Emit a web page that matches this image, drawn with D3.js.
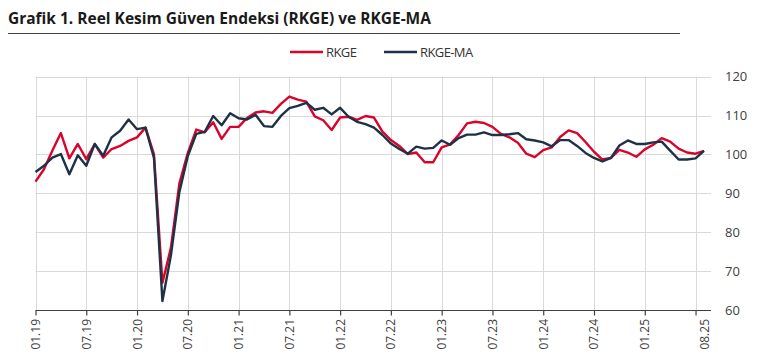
<!DOCTYPE html>
<html lang="tr">
<head>
<meta charset="UTF-8">
<title>Grafik 1. RKGE ve RKGE-MA</title>
<script src="https://d3js.org/d3.v7.min.js"></script>
<style>
    body { margin: 0; background: #fff; font-family: "Open Sans", "Noto Sans", sans-serif; }
    .grid line { stroke: #d9d9d9; stroke-width: 1px; }
    .tick-label { fill: #404040; font-size: 13px; }
    .x-label { fill: #404040; font-size: 12px; }
</style>
</head>
<body>
<svg id="chart" width="768" height="363"></svg>
<script>
    // aylar: 01.19 - 08.25
    const startYear = 2019;
    const rkge = [
        93.0, 96.2, 101.0, 105.5, 99.0, 102.7, 98.8, 102.7, 99.2, 101.4, 102.2, 103.5,
        104.4, 106.9, 100.0, 67.0, 76.0, 92.5, 100.4, 106.4, 105.7, 108.3, 104.0, 107.1,
        107.1, 109.4, 110.8, 111.1, 110.7, 113.0, 114.9, 114.1, 113.6, 109.8, 108.8, 106.3,
        109.5, 109.7, 108.9, 109.9, 109.5, 105.9, 103.7, 102.2, 100.1, 100.5, 98.0, 98.0,
        101.8, 102.6, 105.0, 108.0, 108.4, 108.1, 107.1, 105.3, 104.4, 103.0, 100.2, 99.3,
        101.1, 101.8, 104.5, 106.2, 105.5, 103.2, 100.7, 98.7, 99.1, 101.2, 100.5, 99.4,
        101.3, 102.5, 104.2, 103.3, 101.5, 100.5, 100.2, 100.9
    ];
    const rkgeMA = [
        95.5, 97.1, 99.2, 100.1, 94.9, 99.8, 97.1, 102.7, 99.7, 104.4, 106.1, 109.0,
        106.5, 106.9, 99.1, 62.3, 74.0, 90.3, 99.6, 105.3, 105.8, 109.9, 107.5, 110.6,
        109.3, 109.0, 110.2, 107.3, 107.1, 109.9, 111.9, 112.5, 113.3, 111.5, 112.0, 110.3,
        112.0, 109.7, 108.4, 107.8, 106.9, 105.0, 102.8, 101.4, 100.2, 102.0, 101.5, 101.7,
        103.6, 102.5, 104.2, 105.1, 105.1, 105.7, 105.0, 105.0, 105.2, 105.5, 103.9, 103.6,
        103.1, 102.1, 103.7, 103.7, 102.2, 100.4, 99.1, 98.2, 99.1, 102.3, 103.6, 102.7,
        102.7, 103.1, 103.3, 101.0, 98.7, 98.7, 99.0, 100.9
    ];
    const yTicks = [60, 70, 80, 90, 100, 110, 120];
    const seriesNames = ["RKGE", "RKGE-MA"];
    const seriesColors = ["#d9042b", "#1e3247"];

    const n = rkge.length;
    const monthLabel = i => {
        const m = i % 12 + 1, yr = (startYear + Math.floor(i / 12)) % 100;
        return String(m).padStart(2, "0") + "." + String(yr).padStart(2, "0");
    };
    // 6 ayda bir cizgi, etiketler son aya kadar
    const gridIdx = d3.range(0, n, 6);
    const labelIdx = gridIdx.filter(i => i <= n - 8).concat([n - 1]);

    const svg = d3.select("#chart");
    const plotL = 35.5, plotR = 711, plotT = 76.7, plotB = 310;

    const x = d3.scaleLinear().domain([0, n - 1]).range([plotL, 704]);
    const y = d3.scaleLinear().domain([60, 120]).range([plotB, plotT]);

    // baslik
    svg.append("text")
        .attr("x", 8).attr("y", 24)
        .attr("font-size", 15.5).attr("font-weight", 700)
        .attr("fill", "#1a1a1a")
        .attr("letter-spacing", 0)
        .text("Grafik 1. Reel Kesim Güven Endeksi (RKGE) ve RKGE-MA");
    svg.append("line")
        .attr("x1", 8).attr("x2", 680).attr("y1", 33.5).attr("y2", 33.5)
        .attr("stroke", "#404040").attr("stroke-width", 1);

    // legend
    const legend = svg.append("g").attr("transform", "translate(290,52)");
    const legX = [0, 94];
    seriesNames.forEach((name, i) => {
        const g = legend.append("g").attr("transform", `translate(${legX[i]},0)`);
        g.append("line").attr("x1", 0).attr("x2", 33).attr("y1", 0).attr("y2", 0)
            .attr("stroke", seriesColors[i]).attr("stroke-width", 2.5);
        g.append("text").attr("x", 36).attr("y", 4.5)
            .attr("font-size", 13).attr("fill", "#333").attr("letter-spacing", -0.6)
            .text(name);
    });

    // grid
    const grid = svg.append("g").attr("class", "grid");
    grid.selectAll(".h").data(yTicks.filter(v => v > 60)).enter().append("line")
        .attr("x1", plotL).attr("x2", plotR)
        .attr("y1", d => Math.round(y(d)) + 0.5).attr("y2", d => Math.round(y(d)) + 0.5);
    grid.selectAll(".v").data(gridIdx).enter().append("line")
        .attr("x1", d => Math.round(x(d)) + 0.5).attr("x2", d => Math.round(x(d)) + 0.5)
        .attr("y1", plotT).attr("y2", plotB);

    // y axis on the right
    const yAxis = svg.append("g")
        .attr("transform", `translate(${plotR},0)`)
        .call(d3.axisRight(y).tickValues(yTicks).tickSize(0).tickPadding(14));
    yAxis.select(".domain").remove();
    yAxis.selectAll("text").attr("class", "tick-label").attr("font-family", null).attr("font-size", null).attr("fill", null);
    yAxis.attr("font-family", null).attr("font-size", null);

    // x axis
    const xAxis = svg.append("g")
        .attr("transform", `translate(0,${Math.round(plotB) + 0.5})`)
        .call(d3.axisBottom(x).tickValues(gridIdx).tickSize(5).tickFormat(""));
    xAxis.select(".domain").attr("d", `M${plotL},0H${plotR}`).attr("stroke", "#404040").attr("stroke-width", 1.2);
    xAxis.selectAll(".tick line").attr("stroke", "#404040").attr("stroke-width", 1.2);

    svg.append("g").selectAll("text").data(labelIdx).enter().append("text")
        .attr("class", "x-label")
        .attr("text-anchor", "end")
        .attr("transform", d => `translate(${x(d) + 4.5},${plotB + 9}) rotate(-90)`)
        .text(d => monthLabel(d));

    // lines
    const line = d3.line().x((d, i) => x(i)).y(d => y(d));
    [rkge, rkgeMA].forEach((s, i) => {
        svg.append("path").datum(s)
            .attr("fill", "none")
            .attr("stroke", seriesColors[i])
            .attr("stroke-width", 2.4)
            .attr("stroke-linejoin", "round")
            .attr("d", line);
    });
</script>
</body>
</html>
